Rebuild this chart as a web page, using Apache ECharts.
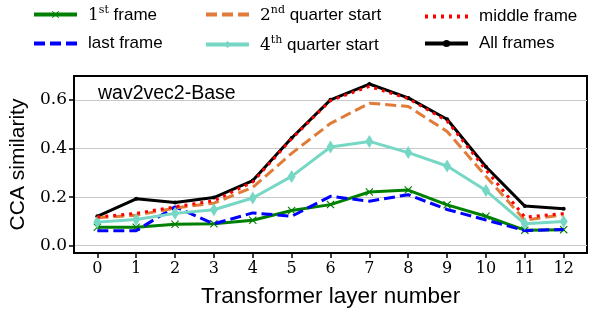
<!DOCTYPE html>
<html>
<head>
<meta charset="utf-8">
<script src="https://cdn.jsdelivr.net/npm/echarts@6/dist/echarts.min.js"></script>
<style>
  html, body { margin: 0; padding: 0; background: #fff; }
  #app { width: 592px; height: 313px; }
</style>
</head>
<body>
<div id="app"></div>
<script>
// layers and CCA values
var layers = [0, 1, 2, 3, 4, 5, 6, 7, 8, 9, 10, 11, 12];
var yTicks = [0, 0.2, 0.4, 0.6];
var firstFrame  = [0.076, 0.076, 0.088, 0.090, 0.105, 0.145, 0.169, 0.221, 0.229, 0.168, 0.121, 0.064, 0.066];
var lastFrame   = [0.062, 0.062, 0.160, 0.090, 0.135, 0.121, 0.203, 0.183, 0.210, 0.149, 0.106, 0.062, 0.067];
var q2Start     = [0.115, 0.125, 0.155, 0.175, 0.240, 0.380, 0.503, 0.586, 0.573, 0.470, 0.285, 0.105, 0.127];
var q4Start     = [0.097, 0.108, 0.133, 0.148, 0.196, 0.285, 0.406, 0.429, 0.383, 0.328, 0.227, 0.090, 0.100];
var middleFrame = [0.118, 0.133, 0.160, 0.185, 0.262, 0.440, 0.597, 0.655, 0.605, 0.513, 0.312, 0.118, 0.132];
var allFrames   = [0.121, 0.193, 0.178, 0.198, 0.268, 0.443, 0.600, 0.665, 0.608, 0.520, 0.325, 0.163, 0.152];

function pts(vals) {
    return layers.map(function (l, i) { return [l, vals[i]]; });
}

var crossPath = 'path://M0,1L1,0L5,4L9,0L10,1L6,5L10,9L9,10L5,6L1,10L0,9L4,5Z';

// legend labels with superscripts
var legendText = {
    '1st frame': '{n|1}{s|st}{t| frame}',
    'last frame': '{t|last frame}',
    '2nd quarter start': '{n|2}{s|nd}{t| quarter start}',
    '4th quarter start': '{n|4}{s|th}{t| quarter start}',
    'middle frame': '{t|middle frame}',
    'All frames': '{t|All frames}'
};
var rich = {
    n: { fontFamily: 'DejaVu Serif', fontSize: 17, color: '#000', verticalAlign: 'bottom' },
    s: { fontFamily: 'DejaVu Serif', fontSize: 11, color: '#000', verticalAlign: 'bottom', padding: [0, 0, 8, 0] },
    t: { fontFamily: 'Liberation Sans', fontSize: 17, color: '#000', verticalAlign: 'bottom' }
};
// no marker on these lines, so hide the legend symbol
var noMark = { color: 'rgba(0,0,0,0)', opacity: 0 };

function legendCol(items, left, top, gap) {
    return {
        data: items,
        left: left,
        top: top,
        padding: 0,
        orient: 'vertical',
        itemWidth: 43,
        itemHeight: 9,
        itemGap: gap,
        itemStyle: { borderWidth: 0 },
        lineStyle: { width: 4 },
        formatter: function (name) { return legendText[name]; },
        textStyle: { rich: rich, padding: [0, 0, 0, 6] }
    };
}

var myChart = echarts.init(document.getElementById('app'));

var tickStyle = { color: '#000', width: 1.5 };

var option = {
    animation: false,
    backgroundColor: '#fff',
    legend: [
        legendCol(['1st frame', { name: 'last frame', itemStyle: noMark }], 32, 5, 11),
        legendCol([{ name: '2nd quarter start', itemStyle: noMark }, '4th quarter start'], 204, 5, 11),
        legendCol([{ name: 'middle frame', itemStyle: noMark }, 'All frames'], 423, 8, 10)
    ],
    grid: {
        left: 74, right: 5, top: 76, bottom: 60,
        show: true, borderColor: '#000', borderWidth: 2
    },
    graphic: [{
        type: 'text',
        left: 98, top: 84,
        style: { text: 'wav2vec2-Base', font: '19.5px "Liberation Sans"', fill: '#000' }
    }],
    xAxis: {
        type: 'value',
        min: -0.6, max: 12.6,
        name: 'Transformer layer number',
        nameLocation: 'middle',
        nameGap: 32,
        nameTextStyle: { fontFamily: 'Liberation Sans', fontSize: 22.5, color: '#000' },
        axisLine: { show: true, onZero: false, lineStyle: { color: '#000', width: 2 } },
        axisTick: { show: true, customValues: layers, length: 5, lineStyle: tickStyle },
        axisLabel: { customValues: layers, margin: 8, fontFamily: 'DejaVu Serif', fontSize: 16, color: '#000' },
        splitLine: { show: false }
    },
    yAxis: {
        type: 'value',
        min: -0.03, max: 0.698,
        name: 'CCA similarity',
        nameLocation: 'middle',
        nameGap: 45,
        nameTextStyle: { fontFamily: 'Liberation Sans', fontSize: 21, color: '#000' },
        axisLine: { show: true, onZero: false, lineStyle: { color: '#000', width: 2 } },
        axisTick: { show: true, customValues: yTicks, length: 5, lineStyle: tickStyle },
        axisLabel: {
            customValues: yTicks, margin: 7, fontFamily: 'DejaVu Serif', fontSize: 17, color: '#000',
            formatter: function (v) { return v.toFixed(1); }
        },
        splitLine: { show: true, lineStyle: { color: '#c8c8c8', width: 1 } }
    },
    series: [
        {
            name: '1st frame', type: 'line', data: pts(firstFrame), z: 3,
            symbol: crossPath, symbolSize: 8,
            lineStyle: { color: '#008000', width: 3 },
            itemStyle: { color: '#008000' }
        },
        {
            name: 'last frame', type: 'line', data: pts(lastFrame), z: 4,
            symbol: 'none',
            lineStyle: { color: '#0000ff', width: 3, type: [11, 5], cap: 'butt' },
            itemStyle: { color: '#0000ff' }
        },
        {
            name: '2nd quarter start', type: 'line', data: pts(q2Start), z: 5,
            symbol: 'none',
            lineStyle: { color: '#e07b39', width: 3, type: [11, 5], cap: 'butt' },
            itemStyle: { color: '#e07b39' }
        },
        {
            name: '4th quarter start', type: 'line', data: pts(q4Start), z: 6,
            symbol: 'diamond', symbolSize: [8, 13],
            lineStyle: { color: '#76d7c4', width: 3 },
            itemStyle: { color: '#76d7c4' }
        },
        {
            name: 'middle frame', type: 'line', data: pts(middleFrame), z: 7,
            symbol: 'none',
            lineStyle: { color: '#ff0000', width: 3, type: [3, 5], cap: 'butt' },
            itemStyle: { color: '#ff0000' }
        },
        {
            name: 'All frames', type: 'line', data: pts(allFrames), z: 2,
            symbol: 'circle', symbolSize: 4,
            lineStyle: { color: '#000', width: 3 },
            itemStyle: { color: '#000' }
        }
    ]
};

myChart.setOption(option);
</script>
</body>
</html>
